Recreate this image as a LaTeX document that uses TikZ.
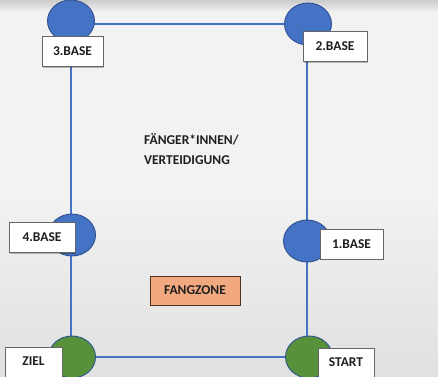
\documentclass[tikz,border=0pt]{standalone}
\usepackage{fontspec}
\setmainfont{Carlito}
\usetikzlibrary{shadows,shapes.geometric}
\definecolor{lineblue}{HTML}{4472C4}
\definecolor{edgeblue}{HTML}{2F528F}
\definecolor{basegreen}{HTML}{57923A}
\definecolor{zoneorange}{HTML}{F2A97F}
\definecolor{txt}{HTML}{1E1E1E}
\tikzset{
  link/.style={draw=lineblue, line width=1.4bp},
  basecirc/.style={ellipse, draw=edgeblue, line width=0.9bp, fill=lineblue, minimum width=47bp, minimum height=42bp, inner sep=0pt},
  endcirc/.style={basecirc, fill=basegreen},
  tag/.style={draw=gray!80!black, line width=0.8bp, fill=white, text=txt, font=\bfseries\fontsize{13.5}{15}\selectfont, minimum height=30bp, inner sep=0pt, drop shadow={shadow xshift=1bp, shadow yshift=-1bp, opacity=0.25, fill=black}},
  zone/.style={tag, fill=zoneorange, draw=black!60!brown, drop shadow={shadow xshift=1bp, shadow yshift=-1bp, opacity=0.15, fill=black}},
  label/.style={text=txt, font=\bfseries\fontsize{13.5}{20}\selectfont, align=left, inner sep=0pt}
}
\begin{document}
\begin{tikzpicture}[x=1bp, y=-1bp]
\useasboundingbox (0,0) rectangle (438,376);
% background
\fill[black!5] (0,0) rectangle (438,376);
\shade[top color=black!5, bottom color=black!12] (0,190) rectangle (438,376);
\shade[top color=black!20, bottom color=black!5] (0,0) rectangle (438,12);
% corner points of the field
\coordinate (p3) at (71,24);
\coordinate (p2) at (307,24);
\coordinate (p4) at (71,235);
\coordinate (p1) at (307,241);
\coordinate (pz) at (71,357);
\coordinate (ps) at (307,357);
% field lines
\draw[link] (p3) -- (p2);
\draw[link] (p2) -- (p1);
\draw[link] (p1) -- (ps);
\draw[link] (ps) -- (pz);
\draw[link] (pz) -- (p4);
\draw[link] (p4) -- (p3);
% circles
\node[basecirc] (c3) at ([yshift=3bp]p3) {};
\node[basecirc] (c2) at ([xshift=1bp]p2) {};
\node[basecirc] (c4) at ([xshift=1bp]p4) {};
\node[basecirc] (c1) at (p1) {};
\node[endcirc] (cz) at ([xshift=1bp]pz) {};
\node[endcirc] (cs) at ([xshift=2bp]ps) {};
% labels
\node[tag, minimum width=61bp] (t3) at (72.5,51.5) {3.BASE};
\node[tag, minimum width=64bp] (t2) at (335,46.5) {2.BASE};
\node[tag, minimum width=66bp] (t4) at (42,237.5) {4.BASE};
\node[tag, minimum width=63bp] (t1) at (351.5,244) {1.BASE};
\node[tag, minimum width=57bp] (tz) at (33.5,362) {\raisebox{2bp}{ZIEL}};
\node[tag, minimum width=56bp] (ts) at (346,363) {\raisebox{2bp}{START}};
\node[zone, minimum width=90bp, minimum height=29bp] (fz) at (195,290.5) {FANGZONE};
\node[label, anchor=north west] (def) at (144,133) {FÄNGER*INNEN/\\VERTEIDIGUNG};
\end{tikzpicture}
\end{document}
